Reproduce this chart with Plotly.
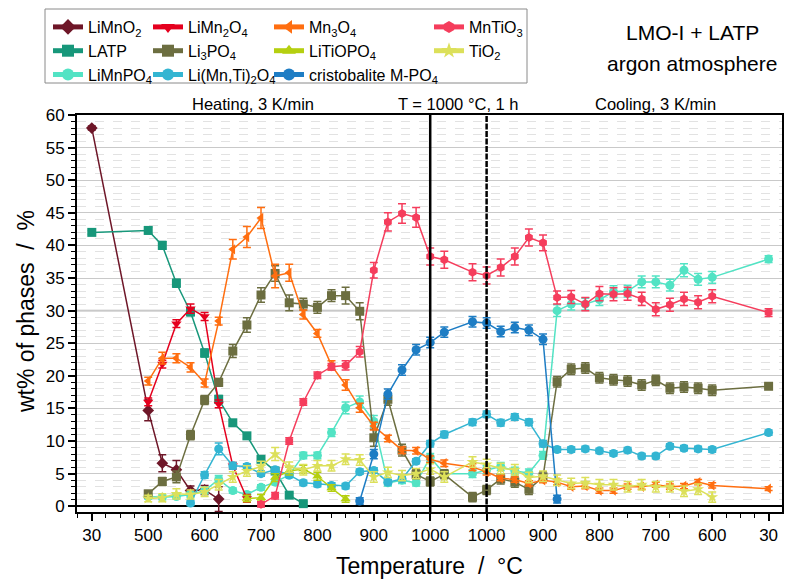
import plotly.graph_objects as go

# measurement positions on the (index) temperature axis
# 0: 30 °C start, 4..24: 500..1000 °C heating (25 K steps),
# 25, 27, 28: dwell at 1000 °C, 29..44: 975..600 °C cooling, 48: 30 °C end
positions = [0,
             4, 5, 6, 7, 8, 9, 10, 11, 12, 13, 14, 15, 16, 17, 18, 19, 20, 21, 22, 23, 24,
             25, 27, 28,
             29, 30, 31, 32, 33, 34, 35, 36, 37, 38, 39, 40, 41, 42, 43, 44,
             48]

tick_pos = [0, 4, 8, 12, 16, 20, 24, 28, 32, 36, 40, 44, 48]
tick_labels = ["30", "500", "600", "700", "800", "900", "1000", "1000",
               "900", "800", "700", "600", "30"]

N = None
# values (wt%), one entry per position above
LiMnO2 = [58.0, 14.7, 6.6, 5.6, 2.4, 2.5, 1.1] + [N] * 35
LiMnO2_err = [0.3, 1.6, 1.3, 1.4, 0.7, 0.7, 1.9] + [N] * 35

LATP = [42.0, 42.3, 40.0, 34.2, 29.8, 23.5, 16.4, 12.8, 10.8, 7.2, 5.4, 1.7, 0.4] + [N] * 29
LATP_err = [0.3, 0.5, 0.6, 0.6, 0.6, 0.6, 0.6, 0.4, 0.4, 0.4, 0.4, 0.3, 0.3] + [N] * 29

LiMn2O4 = [N, 16.0, 21.8, 28.0, 30.3, 29.1, 15.7, 6.2, 1.2] + [N] * 33
LiMn2O4_err = [N, 0.6, 0.6, 0.6, 0.7, 0.6, 0.6, 0.5, 0.6] + [N] * 33

Mn3O4 = [N,
         19.2, 22.7, 22.7, 21.3, 18.9, 28.4, 39.4, 41.3, 44.2, 35.3, 35.8, 29.4, 26.5,
         21.6, 18.6, 15.1, 12.3, 10.4, 8.6, 8.5, 7.2,
         6.6, 6.0, 5.3,
         4.3, 4.1, 3.5, 4.0, 3.7, 3.0, 3.1, 2.4, 2.4, 3.0, 3.0, 3.3, 3.0, 3.1, 3.7, 3.2,
         2.7]
Mn3O4_err = [N,
             0.6, 0.9, 0.7, 0.7, 0.6, 0.6, 1.5, 1.6, 1.6, 1.8, 1.3, 0.7, 0.6,
             0.7, 0.8, 0.7, 0.6, 0.5, 0.5, 0.5, 0.5,
             0.5, 0.5, 0.5,
             0.4, 0.4, 0.4, 0.4, 0.4, 0.4, 0.4, 0.4, 0.4, 0.4, 0.4, 0.4, 0.4, 0.4, 0.4, 0.4,
             0.3]

MnTiO3 = [N, N, N, N, N, N, N, N, N,
          0.3, 1.6, 10.0, 16.0, 20.1, 21.4, 21.6, 23.7, 36.2, 43.6, 44.9, 44.3, 38.3,
          37.8, 35.9, 35.4,
          36.6, 38.3, 41.2, 40.4, 32.0, 32.1, 31.0, 32.6, 32.5, 32.6, 31.8, 30.2, 30.9,
          31.8, 31.3, 32.2,
          29.7]
MnTiO3_err = [N, N, N, N, N, N, N, N, N,
              0.4, 0.5, 0.5, 0.5, 0.5, 0.5, 0.7, 0.8, 1.2, 1.4, 1.5, 1.5, 1.3,
              1.3, 1.3, 1.3,
              1.3, 1.3, 1.3, 1.2, 1.0, 1.0, 1.0, 1.1, 1.0, 1.0, 1.0, 1.0, 1.0, 1.0, 1.0, 1.0,
              0.6]

Li3PO4 = [N,
          1.9, 3.8, 4.5, 10.9, 16.3, 19.0, 23.8, 27.8, 32.4, 35.7, 31.2, 31.0, 30.5,
          32.3, 32.3, 29.9, 10.5, 16.4, 8.6, 4.9, 3.8,
          4.9, 1.4, 2.5,
          4.2, 3.7, 2.6, 4.5, 19.1, 21.0, 21.2, 19.7, 19.4, 19.2, 18.6, 19.3, 18.1, 18.3,
          18.1, 17.8,
          18.4]
Li3PO4_err = [N,
              0.5, 0.6, 0.9, 0.7, 0.7, 0.6, 1.0, 1.1, 1.1, 1.2, 1.2, 0.9, 0.9,
              0.9, 1.3, 1.3, 1.3, 0.9, 0.9, 0.7, 0.7,
              0.7, 0.7, 0.7,
              0.8, 0.8, 0.8, 0.8, 0.8, 0.8, 0.8, 0.8, 0.8, 0.8, 0.8, 0.8, 0.8, 0.8, 0.8, 0.8,
              0.3]

LiTiOPO4 = [N] * 8 + [1.2, 1.3, 4.4, 5.4, 5.7, 4.6, 2.8, 1.1] + [N] * 26
LiTiOPO4_err = [N] * 8 + [0.5, 0.5, 0.6, 0.6, 0.6, 0.6, 0.5, 0.5] + [N] * 26

TiO2 = [N,
        1.2, 1.3, 1.9, 1.8, 2.2, 3.3, 4.5, 5.4, 6.1, 8.0, 6.0, 5.6, 6.2, 6.2, 7.2,
        7.1, 4.5, 5.2, 4.7, 5.0, 5.7,
        4.5, 6.8, 6.4,
        5.8, 5.6, 4.4, 4.6, 4.0, 3.5, 3.6, 3.3, 3.3, 3.0, 3.3, 3.0, 3.0, 2.3, 2.6, 1.4,
        N]
TiO2_err = [N,
            0.5, 0.6, 0.8, 0.7, 0.7, 0.8, 0.8, 0.8, 0.8, 1.0, 0.8, 0.8, 0.8, 0.8, 0.8,
            0.8, 0.8, 0.8, 0.8, 0.8, 0.8,
            0.8, 0.8, 0.8,
            0.8, 0.8, 0.8, 0.8, 0.8, 0.8, 0.8, 0.8, 0.8, 0.8, 0.8, 0.8, 0.8, 0.8, 0.8, 0.8,
            N]

LiMnPO4 = [N,
           1.5, 1.4, 1.5, 1.8, 2.4, 4.1, 2.4, 1.8, 2.9, 3.7, 4.8, 7.8, 7.8, 11.3, 15.1,
           16.0, 13.0, 3.6, 4.0, 3.6, 7.5,
           5.0, 5.0, 5.6,
           6.1, 5.4, 5.1, 7.8, 30.0, 31.0, 31.0, 31.7, 32.9, 33.0, 34.4, 34.4, 33.9, 36.2,
           34.8, 35.1,
           37.9]
LiMnPO4_err = [N,
               0.4, 0.4, 0.4, 0.4, 0.5, 0.6, 0.4, 0.4, 0.4, 0.4, 0.4, 0.5, 0.5, 0.6, 0.9,
               0.9, 0.9, 0.5, 0.5, 0.5, 0.6,
               0.6, 0.6, 0.6,
               0.6, 0.6, 0.6, 0.6, 0.9, 0.9, 0.9, 0.9, 0.9, 0.9, 0.9, 0.9, 0.9, 1.0, 0.9, 0.9,
               0.5]

LiMnTi2O4 = [N, N, N, N,
             0.5, 4.8, 8.8, 6.2, 6.1, 5.0, 5.6, 4.8, 3.6, 3.4, 3.2, 3.1, 5.3, 5.5, 3.7,
             4.2, 6.9, 9.6,
             11.0, 12.9, 14.1,
             12.8, 13.7, 12.9, 9.6, 8.7, 8.7, 8.8, 8.5, 8.1, 8.6, 7.7, 7.7, 9.2, 8.9, 8.8,
             8.7,
             11.3]
LiMnTi2O4_err = [N, N, N, N,
                 0.4, 0.5, 0.9, 0.5, 0.4, 0.4, 0.4, 0.4, 0.4, 0.4, 0.4, 0.4, 0.4, 0.4, 0.4,
                 0.4, 0.4, 0.5,
                 0.5, 0.5, 0.5,
                 0.5, 0.5, 0.5, 0.5, 0.4, 0.4, 0.4, 0.4, 0.4, 0.4, 0.4, 0.4, 0.4, 0.4, 0.4,
                 0.4,
                 0.4]

cristobalite = [N] * 16 + [0.8, 8.0, 17.2, 20.9, 24.0, 25.1,
                           26.7, 28.3, 28.1,
                           26.8, 27.4, 27.0, 25.6, 1.1] + [N] * 11
cristobalite_err = [N] * 16 + [0.5, 0.7, 0.8, 0.8, 0.8, 0.8,
                               0.8, 0.8, 0.8,
                               0.8, 0.8, 0.8, 0.8, 0.6] + [N] * 11

series = [
    ("LiMnO<sub>2</sub>", LiMnO2, LiMnO2_err, "#6E1628", "diamond", "legend"),
    ("LATP", LATP, LATP_err, "#17977A", "square", "legend"),
    ("LiMnPO<sub>4</sub>", LiMnPO4, LiMnPO4_err, "#52E3C4", "circle", "legend"),
    ("LiMn<sub>2</sub>O<sub>4</sub>", LiMn2O4, LiMn2O4_err, "#E5001E", "triangle-down", "legend2"),
    ("Li<sub>3</sub>PO<sub>4</sub>", Li3PO4, Li3PO4_err, "#6C6E40", "square", "legend2"),
    ("Li(Mn,Ti)<sub>2</sub>O<sub>4</sub>", LiMnTi2O4, LiMnTi2O4_err, "#33B5D2", "circle", "legend2"),
    ("Mn<sub>3</sub>O<sub>4</sub>", Mn3O4, Mn3O4_err, "#FF6E10", "triangle-left", "legend3"),
    ("LiTiOPO<sub>4</sub>", LiTiOPO4, LiTiOPO4_err, "#B5CF10", "triangle-up", "legend3"),
    ("cristobalite M-PO<sub>4</sub>", cristobalite, cristobalite_err, "#1E7DC4", "circle", "legend3"),
    ("MnTiO<sub>3</sub>", MnTiO3, MnTiO3_err, "#F53D5C", "hexagon", "legend4"),
    ("TiO<sub>2</sub>", TiO2, TiO2_err, "#DCE05A", "star", "legend4"),
]

FONT = "Arial, Liberation Sans, sans-serif"
fig = go.Figure()

for name, vals, errs, color, sym, lg in series:
    xs = [p for p, v in zip(positions, vals) if v is not None]
    ys = [v for v in vals if v is not None]
    es = [e for v, e in zip(vals, errs) if v is not None]
    fig.add_trace(go.Scatter(
        x=xs, y=ys, name=name, mode="lines+markers", legend=lg,
        line=dict(color=color, width=1.5),
        marker=dict(color=color, symbol=sym, size=9),
        error_y=dict(type="data", array=es, visible=True, color=color,
                     thickness=1.5, width=4),
    ))

# page offset (body margin) and plot geometry in pixels
OFF = 8
W, H = 795 - OFF, 580 - OFF
L, R, T, B = 77 - OFF, 13, 115 - OFF, 68
pw, ph = W - L - R, H - T - B


def px_x(px):
    return (px - OFF - L) / pw


def px_y(py):
    return (H - B - (py - OFF)) / ph


legend_common = dict(
    xref="paper", yref="paper", xanchor="left", yanchor="top",
    bgcolor="rgba(0,0,0,0)", borderwidth=0, font=dict(family=FONT, size=16, color="black"),
    itemsizing="constant", tracegroupgap=0, orientation="v", itemwidth=30,
)
leg_x = [48, 148, 269, 429]
leg_top = 10
fig.update_layout(
    legend=dict(x=px_x(leg_x[0]), y=px_y(leg_top), **legend_common),
    legend2=dict(x=px_x(leg_x[1]), y=px_y(leg_top), **legend_common),
    legend3=dict(x=px_x(leg_x[2]), y=px_y(leg_top), **legend_common),
    legend4=dict(x=px_x(leg_x[3]), y=px_y(leg_top), **legend_common),
)

alias = {str(p): t for p, t in zip(tick_pos, tick_labels)}

fig.update_layout(
    width=W, height=H,
    margin=dict(l=L, r=R, t=T, b=B, pad=0, autoexpand=False),
    paper_bgcolor="white", plot_bgcolor="white",
    font=dict(family=FONT, color="black"),
    showlegend=True,
    xaxis=dict(
        range=[-1.05, 48.95], tickmode="linear", tick0=0, dtick=4, labelalias=alias,
        ticks="outside", ticklen=7, tickwidth=1.5, tickcolor="black",
        minor=dict(tick0=0, dtick=1, ticks="outside", ticklen=4,
                   tickwidth=1.2, tickcolor="black", showgrid=False),
        showgrid=False, zeroline=False, showline=True, mirror=True,
        linecolor="black", linewidth=2, tickfont=dict(size=17, family=FONT),
    ),
    yaxis=dict(
        range=[-0.88, 60], tickmode="linear", tick0=0, dtick=5,
        ticks="outside", ticklen=7, tickwidth=1.5, tickcolor="black",
        minor=dict(tick0=0, dtick=1, ticks="outside", ticklen=4, tickwidth=1.2, tickcolor="black",
                   showgrid=True, gridcolor="#e2e2e2", griddash="dash", gridwidth=1),
        showgrid=True, gridcolor="#c9c9c9", gridwidth=1,
        zeroline=True, zerolinecolor="black", zerolinewidth=2,
        showline=True, mirror=True, linecolor="black", linewidth=2,
        tickfont=dict(size=17, family=FONT),
    ),
)

shapes = [
    dict(type="line", xref="paper", yref="y", x0=0, x1=1, y0=30, y1=30,
         line=dict(color="#dadada", width=2.5), layer="below"),
    dict(type="line", xref="x", yref="paper", x0=24, x1=24, y0=0, y1=1,
         line=dict(color="black", width=2.5)),
    dict(type="line", xref="x", yref="paper", x0=28, x1=28, y0=0, y1=1,
         line=dict(color="black", width=2.5, dash="6px,1.5px")),
    dict(type="rect", xref="paper", yref="paper",
         x0=px_x(45), x1=px_x(527), y0=px_y(83), y1=px_y(9),
         line=dict(color="#8a8a8a", width=1)),
]
fig.update_layout(shapes=shapes)

center = dict(xanchor="center", yanchor="middle", showarrow=False)
annotations = [
    dict(text="Heating, 3 K/min", x=11.4, xref="x", y=px_y(104), yref="paper",
         font=dict(size=16.5, family=FONT), **center),
    dict(text="T = 1000 °C, 1 h", x=26, xref="x", y=px_y(104), yref="paper",
         font=dict(size=16.5, family=FONT), **center),
    dict(text="Cooling, 3 K/min", x=40, xref="x", y=px_y(104), yref="paper",
         font=dict(size=16.5, family=FONT), **center),
    dict(text="LMO-I + LATP", x=px_x(692), xref="paper", y=px_y(33), yref="paper",
         font=dict(size=21, family=FONT), **center),
    dict(text="argon atmosphere", x=px_x(692), xref="paper", y=px_y(64), yref="paper",
         font=dict(size=21, family=FONT), **center),
    dict(text="wt% of phases  /  %", x=px_x(26), xref="paper", y=px_y(312), yref="paper",
         textangle=-90, font=dict(size=23, family=FONT), **center),
    dict(text="Temperature  /  °C", x=0.5, xref="paper", y=px_y(566), yref="paper",
         font=dict(size=23, family=FONT), **center),
]
fig.update_layout(annotations=annotations)

fig.write_html("out.html")
